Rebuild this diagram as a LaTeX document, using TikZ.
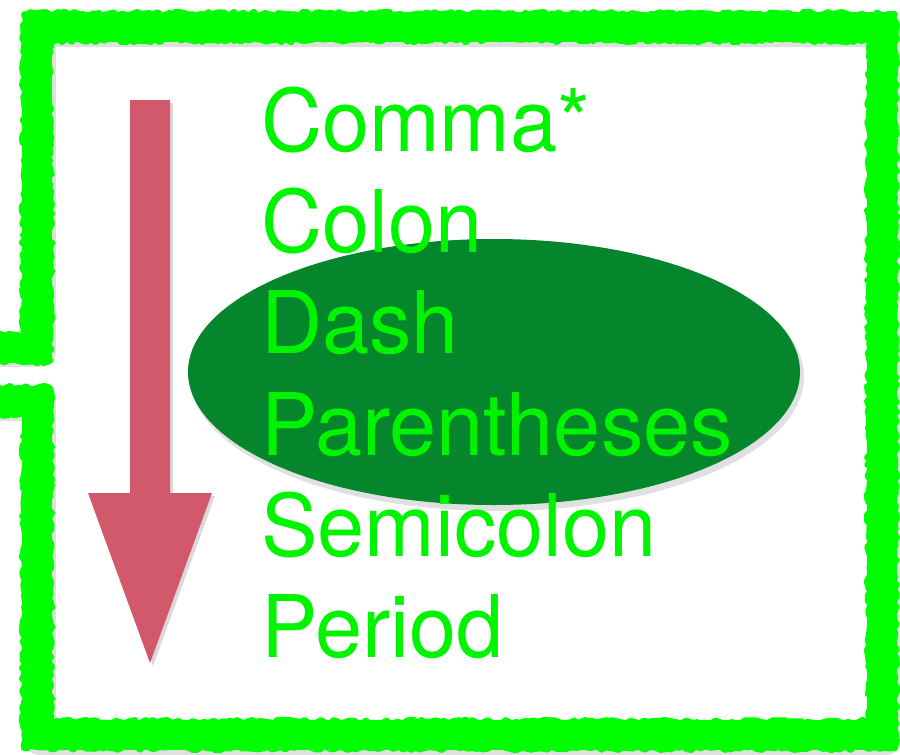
\documentclass[tikz,border=0pt]{standalone}
\usepackage{fontspec}
\setmainfont[FakeStretch=0.98]{TeX Gyre Heros}
\usetikzlibrary{decorations.pathmorphing,shapes.geometric}
\definecolor{framegreen}{RGB}{0,255,0}
\definecolor{textgreen}{RGB}{0,244,0}
\definecolor{ovalgreen}{RGB}{5,134,44}
\definecolor{arrowred}{RGB}{210,88,108}
\tikzset{
  framestroke/.style={draw=framegreen, line width=30pt, line join=round, line cap=butt},
  roughstroke/.style={draw=framegreen, line width=6pt, line join=round,
     decorate, decoration={random steps, segment length=4pt, amplitude=2.2pt}},
  shadowstroke/.style={draw=black, opacity=0.12, line width=32pt, line join=round},
  ovalshape/.style={ellipse, minimum width=612pt, minimum height=266pt, inner sep=0pt},
  label/.style={anchor=base west, inner sep=0pt, text=textgreen,
     font=\fontsize{86.4}{101}\selectfont}
}
\begin{document}
\begin{tikzpicture}[x=1pt, y=-1pt]
\useasboundingbox (0,0) rectangle (900,755);
\fill[white] (0,0) rectangle (900,755);
% frame shadow
\draw[shadowstroke] (-20,351) -- (40,351) -- (40,31) -- (886,31) -- (886,739) -- (40,739) -- (40,405) -- (-20,405);
% frame
\draw[framestroke] (-20,348) -- (37,348) -- (37,27) -- (882,27) -- (882,735) -- (37,735) -- (37,401) -- (-20,401);
\pgfmathsetseed{7}
\draw[roughstroke] (-20,335) -- (24,335) -- (24,14) -- (895,14) -- (895,748) -- (24,748) -- (24,414) -- (-20,414);
\draw[roughstroke] (-20,361) -- (50,361) -- (50,40) -- (869,40) -- (869,722) -- (50,722) -- (50,388) -- (-20,388);
% arrow shadow
\fill[black, opacity=0.15] (133,103) -- (173,103) -- (173,496) -- (215,496) -- (153,666) -- (91,496) -- (133,496) -- cycle;
% arrow
\fill[arrowred] (130,100) -- (170,100) -- (170,493) -- (212,493) -- (150,663) -- (88,493) -- (130,493) -- cycle;
% oval shadow
\node[ovalshape, fill=black, opacity=0.12, minimum width=614pt, minimum height=268pt] (ovalshadow) at (497,377) {};
% oval
\node[ovalshape, fill=ovalgreen] (oval) at (494,372) {};
% text
\node[label] (comma) at (261,151) {Comma*};
\node[label] (colon) at (261,252) {Colon};
\node[label] (dash) at (261,353) {Dash};
\node[label] (paren) at (261,455) {Parentheses};
\node[label] (semi) at (261,556) {Semicolon};
\node[label] (period) at (261,657) {Period};
\end{tikzpicture}
\end{document}
